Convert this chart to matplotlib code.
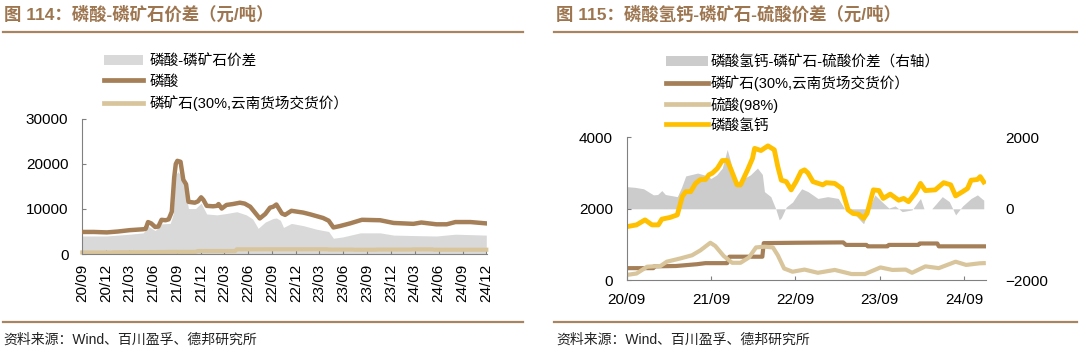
import numpy as np
import pandas as pd
import matplotlib
matplotlib.use("Agg")
import matplotlib.pyplot as plt
from matplotlib.lines import Line2D
from matplotlib.patches import Patch

plt.rcParams['font.family'] = ['Liberation Sans', 'Noto Sans CJK SC', 'DejaVu Sans']

# ---------------- data (time as months since 2020-09) ----------------
# Chart 114
acid_m = [0, 1.5, 3.1, 4.5, 6, 7.7, 8.0, 8.3, 8.7, 9.2, 9.6, 10.0, 10.5, 10.9, 11.3, 11.6, 11.8,
          12.0, 12.4, 12.75, 13.1, 13.4, 14.2, 14.6, 15.0, 15.3, 15.7, 16.5, 17.0, 17.2, 17.6,
          18.2, 19.0, 19.9, 20.5, 21.2, 21.8, 22.4, 23.1, 23.7, 24.1, 24.5, 25.2, 25.6, 26.4,
          27.9, 28.8, 29.6, 30.4, 31.1, 31.7, 32.5, 33.8, 35.3, 37.6, 39.3, 41.8, 42.8, 44.7,
          46.0, 47.1, 49.0, 51.0]
acid_v = [4900, 4900, 4800, 5000, 5300, 5500, 5600, 7100, 6800, 6000, 6100, 7600, 7500, 7700, 9400,
          17000, 20000, 20700, 20500, 16500, 15500, 11600, 11400, 11700, 12600, 12000, 10700,
          10600, 10700, 11100, 10100, 10900, 11100, 11400, 11200, 10500, 9200, 7900, 8900,
          10300, 10500, 11000, 9000, 8700, 9600, 9200, 8800, 8400, 8000, 7400, 5900, 6200,
          6800, 7600, 7500, 6900, 6700, 7000, 6600, 6600, 7100, 7100, 6800]

spread1_m = [0, 3, 6, 7.7, 8.3, 9.2, 10, 11.1, 11.5, 11.7, 12.1, 12.5, 13.0, 13.4, 14.3, 15.0,
             15.7, 17, 18.2, 19.5, 20.7, 21.5, 22.2, 23.1, 24.1, 24.5, 25.0, 25.4, 26.4, 27.9,
             29.6, 31.1, 31.7, 32.9, 35.1, 37.6, 39.3, 41.8, 44.7, 47.1, 51]
spread1_v = [4000, 4000, 4400, 4700, 6200, 5200, 6700, 6800, 9000, 17500, 18300, 17200, 14200,
             10100, 10100, 11300, 8900, 8700, 9000, 9400, 8700, 7800, 5700, 7100, 7900, 8000,
             7500, 5900, 6800, 6300, 5500, 5000, 3500, 3800, 4700, 4700, 4200, 4100, 4000,
             4400, 4200]

# Phosphate rock (30%, Yunnan) - shared by both charts
rock_m = [0, 3.8, 3.9, 7, 10, 11.2, 14.3, 14.6, 19.3, 19.5, 24, 30.8, 31.2, 34.1, 34.3, 37.1,
          37.3, 41.5, 41.7, 44.2, 44.4, 51]
rock_v = [340, 340, 390, 400, 450, 480, 480, 660, 660, 1040, 1050, 1060, 990, 990, 950, 950,
          990, 990, 1030, 1030, 950, 950]

# Chart 115
sulf_m = [0, 1.4, 2.9, 4.8, 5.7, 7.6, 9.3, 10.5, 11.9, 12.6, 13.8, 15.0, 16.2, 17.4, 18.4, 19.6,
          20.8, 21.5, 22.4, 23.6, 25.3, 27.2, 29.6, 32, 33.9, 36.1, 37.8, 39.7, 40.6, 42.5,
          44.4, 46.8, 48.3, 50.2, 50.8]
sulf_v = [150, 190, 380, 400, 520, 610, 700, 840, 1050, 960, 680, 490, 490, 640, 920, 940, 920,
          700, 330, 240, 300, 210, 290, 175, 175, 360, 290, 300, 210, 390, 340, 520, 430, 475, 480]

dcp_m = [0, 1.4, 2.6, 3.6, 4.5, 5.0, 6.2, 7.2, 7.9, 8.4, 9.1, 9.8, 10.5, 11.2, 11.7, 12.2, 12.9,
         13.6, 14.3, 14.8, 15.7, 16.2, 17.2, 17.9, 18.2, 19.1, 20.1, 21.0, 21.5, 22.0, 22.7,
         23.4, 24.1, 24.8, 25.3, 25.8, 26.5, 27.9, 28.4, 29.6, 30.6, 31.5, 32.2, 33.0, 33.7,
         34.2, 35.1, 35.9, 36.5, 37.5, 38.7, 39.4, 40.1, 41.1, 41.8, 42.5, 43.9, 45.1, 46.1,
         46.8, 47.8, 48.5, 49.0, 49.9, 50.3, 50.8]
dcp_v = [1500, 1550, 1690, 1550, 1550, 1710, 1760, 1830, 2340, 2480, 2480, 2710, 2820, 2820,
         2950, 3000, 3130, 3350, 3350, 3120, 2670, 2670, 3090, 3410, 3690, 3630, 3760, 3650,
         3180, 2800, 2760, 2530, 2760, 3040, 3090, 3000, 2760, 2670, 2730, 2710, 2570, 1970,
         1870, 1850, 1730, 1870, 2530, 2510, 2290, 2410, 2240, 2290, 2200, 2450, 2710, 2510,
         2530, 2730, 2670, 2360, 2480, 2570, 2800, 2820, 2900, 2750]

spread2_m = [0, 1.2, 2.4, 3.8, 4.4, 5.0, 5.5, 7.2, 7.8, 8.4, 10.1, 11, 12, 12.8, 13.6, 14.3, 14.8,
             15.3, 15.9, 17.6, 18.6, 19.3, 19.6, 20.5, 21.2, 21.7, 22.0, 22.7, 23.6, 24.3,
             24.9, 25.8, 27.2, 28.6, 30.1, 31.1, 32.5, 33.7, 34.6, 35.3, 36.3, 37.3, 38.2,
             39.2, 40.6, 41.8, 42.3, 43.4, 44.9, 45.9, 46.8, 47.8, 49.0, 49.9, 50.8]
spread2_v = [620, 600, 560, 390, 400, 510, 400, 340, 600, 920, 1000, 950, 850, 950, 1140, 1660,
             1310, 800, 760, 950, 1140, 960, 480, 340, 0, -310, -250, 50, 190, 400, 560, 480,
             290, 340, 290, -30, -170, -420, 60, 390, 200, 20, 80, -80, -30, 290, 0, 0, 340,
             200, -170, 80, 290, 390, 240]

left_ticks = ['20/09', '20/12', '21/03', '21/06', '21/09', '21/12', '22/03', '22/06', '22/09',
              '22/12', '23/03', '23/06', '23/09', '23/12', '24/03', '24/06', '24/09', '24/12']
right_ticks = ['20/09', '21/09', '22/09', '23/09', '24/09']

BASE = pd.Timestamp('2020-09-01')


def to_dates(ms):
    return BASE + pd.to_timedelta(np.asarray(ms, dtype=float) * 30.4375, unit='D')


def label_dates(labels):
    return [pd.Timestamp('20' + s[:2] + '-' + s[3:] + '-01') for s in labels]


BROWN = '#a57f57'
TAN = '#d9c59c'
YELLOW = '#ffc000'
TITLE_C = '#9d7650'
AX_C = '#808080'

W, H = 1080, 352
fig = plt.figure(figsize=(W / 100, H / 100), dpi=100)


def fx(px):
    return px / W


def fy(py):
    return 1 - py / H


# ---------------- left chart ----------------
ax = fig.add_axes([fx(82.3), fy(254), fx(487 - 82.3), (254 - 119) / H])
ax.fill_between(to_dates(spread1_m), 0, spread1_v, color='#d9d9d9', lw=0, zorder=1)
ax.plot(to_dates(acid_m), acid_v, color=BROWN, lw=3.2, zorder=3, solid_joinstyle='round')
ax.plot(to_dates(rock_m), rock_v, color=TAN, lw=3.0, zorder=2, clip_on=False)
ax.set_ylim(0, 30000)
ax.set_yticks([0, 10000, 20000, 30000])
ax.set_xlim(BASE, pd.Timestamp('2024-12-04'))
ax.set_xticks(label_dates(left_ticks))
ax.set_xticklabels(left_ticks, rotation=90)
for s in ['top', 'right']:
    ax.spines[s].set_visible(False)
for s in ['left', 'bottom']:
    ax.spines[s].set_color(AX_C)
    ax.spines[s].set_linewidth(0.8)
ax.tick_params(axis='both', direction='in', length=3, color=AX_C, labelsize=11)
ax.tick_params(axis='y', pad=10)
ax.tick_params(axis='x', pad=7)
ax.patch.set_visible(False)

h1 = [Patch(facecolor='#d9d9d9', edgecolor='none'),
      Line2D([], [], color=BROWN, lw=3.4),
      Line2D([], [], color=TAN, lw=3.4)]
l1 = ['磷酸-磷矿石价差', '磷酸', '磷矿石(30%,云南货场交货价）']
fig.legend(h1, l1, loc='upper left', bbox_to_anchor=(fx(104), fy(54)), frameon=False,
           fontsize=10.5, handlelength=2.7, handletextpad=0.45, labelspacing=0.45,
           borderpad=0, borderaxespad=0)

# ---------------- right chart ----------------
axr = fig.add_axes([fx(626.7), fy(280.3), fx(986 - 626.7), (280.3 - 137.3) / H])
ax2 = axr.twinx()
ax2.fill_between(to_dates(spread2_m), 0, spread2_v, color='#cccccc', lw=0)
ax2.set_ylim(-2000, 2000)
ax2.set_yticks([-2000, 0, 2000])
axr.set_zorder(ax2.get_zorder() + 1)
axr.patch.set_visible(False)
axr.plot(to_dates(rock_m), rock_v, color=BROWN, lw=3.0)
axr.plot(to_dates(sulf_m), sulf_v, color=TAN, lw=3.0)
axr.plot(to_dates(dcp_m), dcp_v, color=YELLOW, lw=3.5, solid_joinstyle='round')
axr.set_ylim(0, 4000)
axr.set_yticks([0, 2000, 4000])
axr.set_xlim(BASE, pd.Timestamp('2024-12-05'))
axr.set_xticks(label_dates(right_ticks))
axr.set_xticklabels(right_ticks)
for a in (axr, ax2):
    for s in ['top', 'right']:
        a.spines[s].set_visible(False)
ax2.spines['left'].set_visible(False)
ax2.spines['bottom'].set_visible(False)
for s in ['left', 'bottom']:
    axr.spines[s].set_color(AX_C)
    axr.spines[s].set_linewidth(0.8)
axr.tick_params(axis='both', direction='in', length=3, color=AX_C, labelsize=11)
axr.tick_params(axis='y', pad=10)
axr.tick_params(axis='x', pad=9)
ax2.tick_params(axis='y', length=0, labelsize=11, pad=14)

h2 = [Patch(facecolor='#cccccc', edgecolor='none'),
      Line2D([], [], color=BROWN, lw=3.4),
      Line2D([], [], color=TAN, lw=3.4),
      Line2D([], [], color=YELLOW, lw=3.4)]
l2 = ['磷酸氢钙-磷矿石-硫酸价差（右轴）', '磷矿石(30%,云南货场交货价）', '硫酸(98%)', '磷酸氢钙']
fig.legend(h2, l2, loc='upper left', bbox_to_anchor=(fx(666), fy(55)), frameon=False,
           fontsize=10.5, handlelength=2.9, handletextpad=0.15, labelspacing=0.4,
           borderpad=0, borderaxespad=0)

# ---------------- titles, rules, sources ----------------
fig.text(fx(4), fy(14), '图 114：磷酸-磷矿石价差（元/吨）', fontsize=12.5, fontweight='bold',
         color=TITLE_C, va='center', ha='left')
fig.text(fx(556), fy(14), '图 115：磷酸氢钙-磷矿石-硫酸价差（元/吨）', fontsize=12.5,
         fontweight='bold', color=TITLE_C, va='center', ha='left')
for (x0, x1) in [(3, 523), (554, 1077)]:
    for yy in (31.5, 322):
        fig.add_artist(Line2D([fx(x0), fx(x1)], [fy(yy), fy(yy)], transform=fig.transFigure,
                              color='#a88463', lw=1.6))
fig.text(fx(3), fy(340), '资料来源：Wind、百川盈孚、德邦研究所', fontsize=10, color='#222222',
         va='center', ha='left')
fig.text(fx(556), fy(340), '资料来源：Wind、百川盈孚、德邦研究所', fontsize=10, color='#222222',
         va='center', ha='left')

fig.savefig('out.png', dpi=100)
